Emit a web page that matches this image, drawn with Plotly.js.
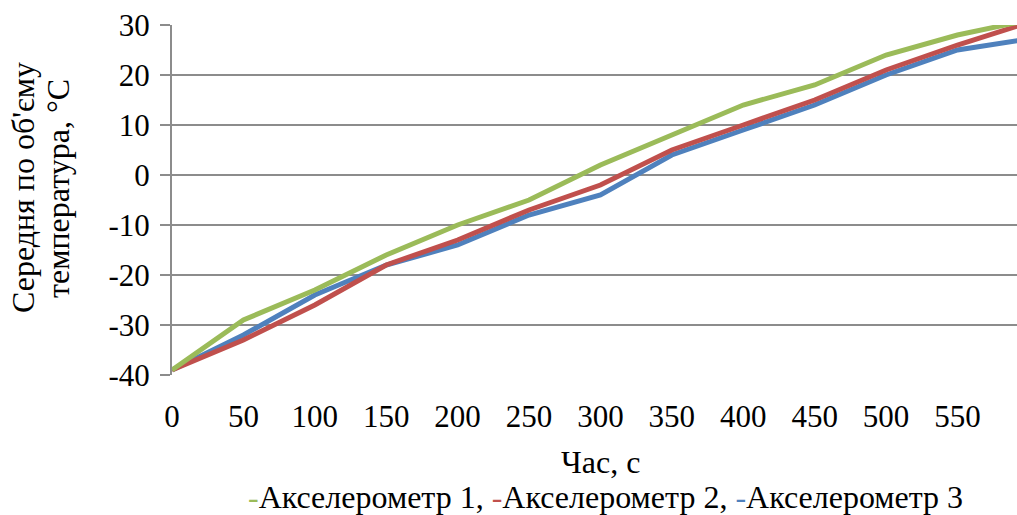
<!DOCTYPE html>
<html>
<head>
<meta charset="utf-8">
<script src="https://cdn.plot.ly/plotly-3.0.1.min.js"></script>
<style>html,body{margin:0;padding:0;background:#fff;}#chart{width:1017px;height:515px;}</style>
</head>
<body>
<div id="chart"></div>
<script>
// Data
const timeSec = [0, 50, 100, 150, 200, 250, 300, 350, 400, 450, 500, 550, 600];
const accel1 = [-39, -29, -23, -16, -10, -5, 2, 8, 14, 18, 24, 28, 31];
const accel2 = [-39, -33, -26, -18, -13, -7, -2, 5, 10, 15, 21, 26, 30.5];
const accel3 = [-39, -32, -24, -18, -14, -8, -4, 4, 9, 14, 20, 25, 27.2];
const seriesNames = ['Акселерометр 1', 'Акселерометр 2', 'Акселерометр 3'];
const xTickVals = [0, 50, 100, 150, 200, 250, 300, 350, 400, 450, 500, 550];
const yTickVals = [-40, -30, -20, -10, 0, 10, 20, 30];
const yTickText = ['-40', '-30', '-20', '-10', '0', '10', '20', '30'];
const xTitle = 'Час, с';
const yTitleLines = ['Середня по об\'єму', 'температура, °C'];

const colors = ['#9bbb59', '#c0504d', '#4f81bd'];
const FONT = 'Liberation Serif';
const TICK = 31, TXT = 32;

const traces = [
  {x: timeSec, y: accel3, name: seriesNames[2], mode: 'lines', line: {color: colors[2], width: 5}},
  {x: timeSec, y: accel2, name: seriesNames[1], mode: 'lines', line: {color: colors[1], width: 5}},
  {x: timeSec, y: accel1, name: seriesNames[0], mode: 'lines', line: {color: colors[0], width: 5}}
];

const legendText = seriesNames.map((n, i) =>
  '<span style="color:' + colors[i] + '">-</span>' + n).join(', ');

const layout = {
  width: 1017, height: 515,
  margin: {l: 172, r: 0, t: 25, b: 140},
  paper_bgcolor: '#fff', plot_bgcolor: '#fff',
  showlegend: false,
  font: {family: FONT, size: TICK, color: '#000'},
  xaxis: {
    range: [0, 591.7], tickvals: xTickVals, ticktext: xTickVals.map(String),
    showgrid: false, zeroline: false, showline: false,
    ticks: 'outside', ticklen: 14, tickcolor: 'rgba(0,0,0,0)',
    tickfont: {family: FONT, size: TICK, color: '#000'}
  },
  yaxis: {
    range: [-40, 30], tickvals: yTickVals, ticktext: yTickText,
    showgrid: true, gridcolor: '#8c8c8c', gridwidth: 2,
    zeroline: false, showline: true, linecolor: '#8c8c8c', linewidth: 2,
    ticks: 'outside', ticklen: 10, tickcolor: '#8c8c8c', tickwidth: 2,
    ticklabelstandoff: 4,
    tickfont: {family: FONT, size: TICK, color: '#000'}
  },
  annotations: [
    {xref: 'paper', yref: 'paper', x: (23 - 172) / 845, y: (375 - 188) / 350,
     xanchor: 'center', yanchor: 'middle', textangle: -90, showarrow: false,
     text: yTitleLines[0], font: {family: FONT, size: TXT, color: '#000'}},
    {xref: 'paper', yref: 'paper', x: (58 - 172) / 845, y: (375 - 188) / 350,
     xanchor: 'center', yanchor: 'middle', textangle: -90, showarrow: false,
     text: yTitleLines[1], font: {family: FONT, size: TXT, color: '#000'}},
    {xref: 'paper', yref: 'paper', x: (600 - 172) / 845, y: (375 - 462) / 350,
     xanchor: 'center', yanchor: 'middle', showarrow: false,
     text: xTitle, font: {family: FONT, size: TXT, color: '#000'}},
    {xref: 'paper', yref: 'paper', x: (605 - 172) / 845, y: (375 - 497) / 350,
     xanchor: 'center', yanchor: 'middle', showarrow: false,
     text: legendText, font: {family: FONT, size: TXT, color: '#000'}}
  ]
};

Plotly.newPlot('chart', traces, layout, {displayModeBar: false, staticPlot: true});
</script>
</body>
</html>
